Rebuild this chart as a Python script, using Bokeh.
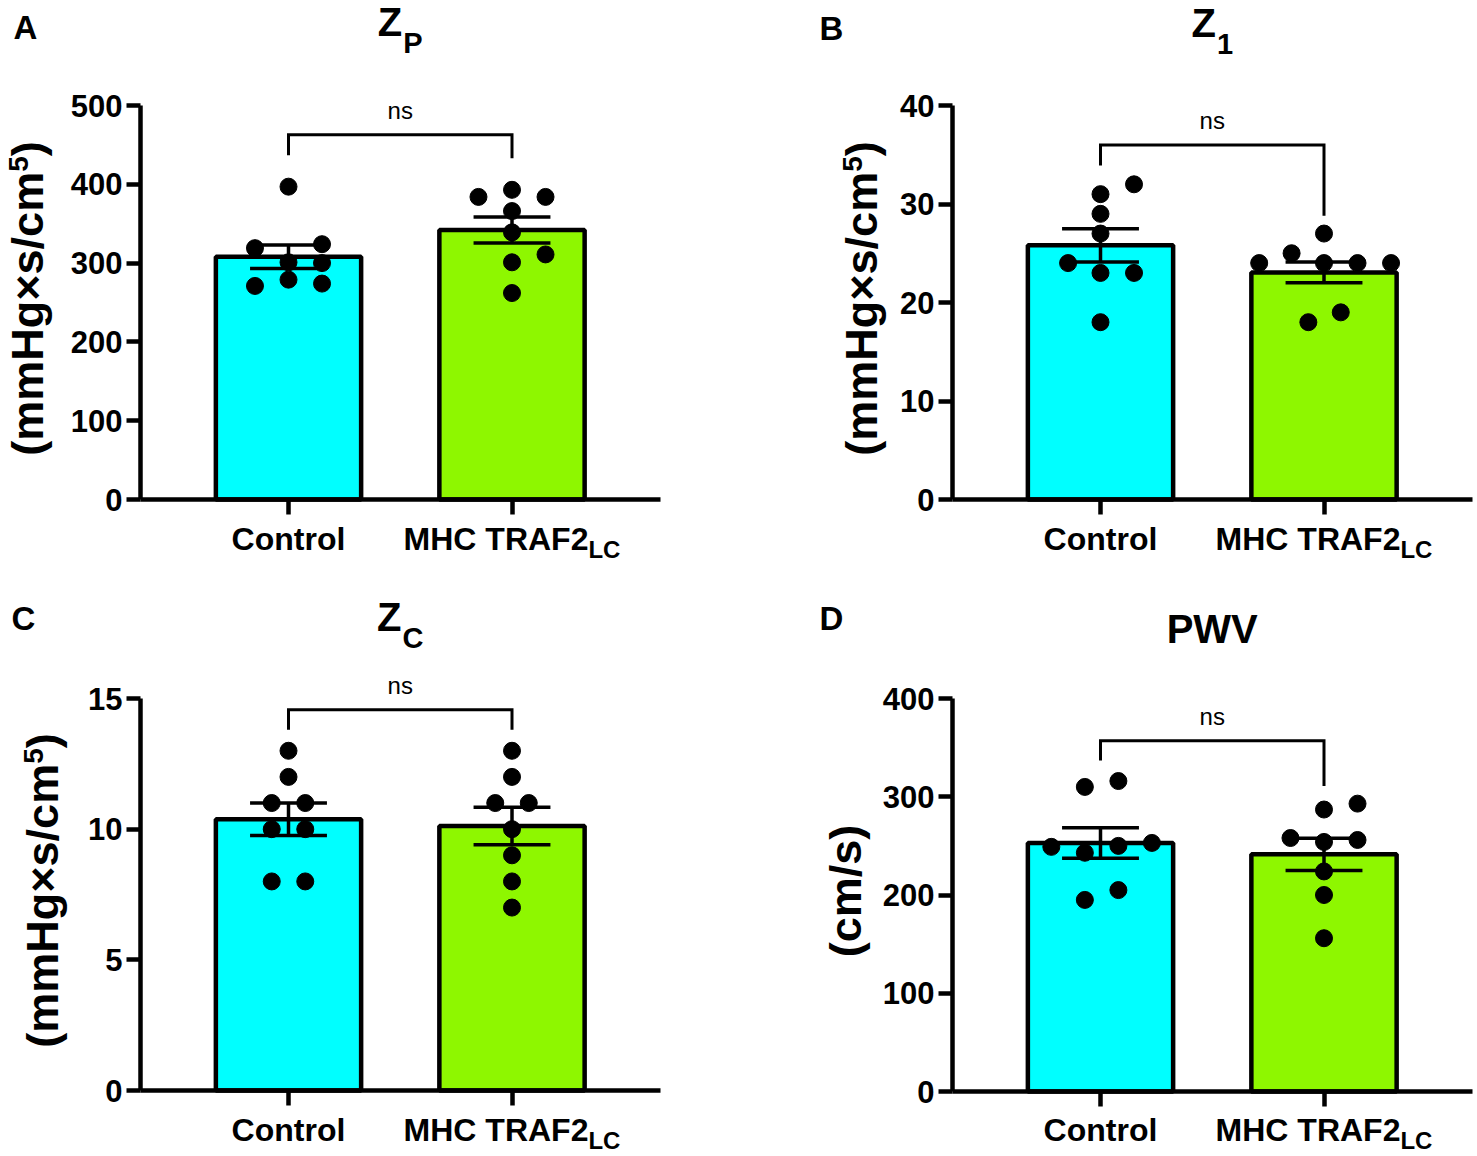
import numpy as np
from bokeh.plotting import figure
from bokeh.models import Range1d, FixedTicker
from bokeh.layouts import row, column
from bokeh.core.properties import value
from bokeh.embed import file_html
from bokeh.resources import INLINE

FONT = "Liberation Sans"

# categories
groups = ["Control", "MHC TRAF2"]
group_subs = ["", "LC"]
group_pos = [1, 2]
bar_colors = ["#00FFFF", "#8EF700"]

# A: Zp (mmHg x s/cm5)
zp_ctrl = [397, 319, 324, 301, 300, 271, 279, 274]
zp_ctrl_jit = [0, -0.15, 0.15, 0, 0.15, -0.15, 0, 0.15]
zp_traf = [393, 384, 384, 366, 339, 311, 301, 262]
zp_traf_jit = [0, -0.15, 0.15, 0, 0, 0.15, 0, 0]
zp_mean = [308, 342]
zp_sem = [15, 16.5]
zp_ticks = [0, 100, 200, 300, 400, 500]
zp_bracket = [463, 437, 433]

# B: Z1
z1_ctrl = [32, 31, 29, 27, 24, 23, 23, 18]
z1_ctrl_jit = [0.15, 0, 0, 0, -0.145, 0, 0.15, 0]
z1_traf = [27, 25, 24, 24, 24, 24, 19, 18]
z1_traf_jit = [0, -0.145, -0.29, 0, 0.15, 0.3, 0.075, -0.07]
z1_mean = [25.8, 23.05]
z1_sem = [1.7, 1.05]
z1_ticks = [0, 10, 20, 30, 40]
z1_bracket = [36, 33.9, 28.8]

# C: Zc
zc_ctrl = [13, 12, 11, 11, 10, 10, 8, 8]
zc_ctrl_jit = [0, 0, -0.075, 0.075, -0.075, 0.075, -0.075, 0.075]
zc_traf = [13, 12, 11, 11, 10, 9, 8, 7]
zc_traf_jit = [0, 0, -0.075, 0.075, 0, 0, 0, 0]
zc_mean = [10.38, 10.12]
zc_sem = [0.62, 0.72]
zc_ticks = [0, 5, 10, 15]
zc_bracket = [14.57, 13.8, 13.8]

# D: PWV (cm/s)
pwv_ctrl = [316, 310, 249, 243, 250, 253, 205, 195]
pwv_ctrl_jit = [0.08, -0.07, -0.22, -0.07, 0.08, 0.23, 0.08, -0.07]
pwv_traf = [293, 287, 258, 254, 256, 224, 200, 156]
pwv_traf_jit = [0.15, 0, -0.15, 0, 0.15, 0, 0, 0]
pwv_mean = [253, 241.4]
pwv_sem = [15.5, 16.4]
pwv_ticks = [0, 100, 200, 300, 400]
pwv_bracket = [357, 337, 311]

# bold Arial-like advance widths (em)
EM = {"(": .333, ")": .333, "m": .889, "H": .722, "g": .611, "×": .584, "s": .556,
      "/": .278, "c": .556, "5": .556, "C": .722, "o": .611, "n": .611, "t": .333,
      "r": .389, "l": .278, "M": .833, "T": .611, "R": .722, "A": .722, "F": .611,
      "2": .556, "L": .611, " ": .278, "Z": .611, "P": .667, "1": .556, "W": .944, "V": .667}


def text_w(s, size):
    return sum(EM.get(ch, .6) for ch in s) * size


PPX = 223.5
BL = 0.36   # bokeh draws "alphabetic" text a bit low; pull it back by this many em
T_MAIN, T_SUB = 40, 29
LETTER = 33


def txt(p, x, y, s, size, bold=True, **kw):
    p.text(x=[x], y=[y], text=[s], text_font=value(FONT), text_font_size=f"{size}px",
           text_font_style="bold" if bold else "normal", text_color="black",
           text_baseline="alphabetic", **kw)


def make_panel(letter, title, title_sub, ylab, ylab_sup, ticks, mean, sem, pts, jits, bracket,
               W, H, fl, cx0, fb, ytop, letter_xy, title_base, ylab_bx, cat_base):
    # the frame fills the whole figure; axes sit at fixed locations inside it
    ymax = ticks[-1]
    ppy = (fb - ytop) / ymax
    x0 = group_pos[0] - cx0 / PPX
    fx = lambda px: x0 + px / PPX
    fy = lambda py: (fb - py) / ppy
    ty = lambda py, size: fy(py - BL * size)     # baseline at screen py
    tx = lambda px, size: fx(px - BL * size)     # rotated baseline at screen px
    p = figure(width=W, height=H, x_range=Range1d(x0, fx(W)), y_range=Range1d(fy(H), fy(0)),
               output_backend="svg", toolbar_location=None, min_border=0,
               min_border_left=0, min_border_right=0, min_border_top=0, min_border_bottom=0)
    p.outline_line_color = None
    p.grid.visible = False

    for ax in (p.xaxis[0], p.yaxis[0]):
        ax.axis_line_width = 4.5
        ax.major_tick_line_width = 4.5
        ax.major_tick_in = 0
        ax.minor_tick_line_color = None
        ax.axis_line_color = "black"
        ax.major_tick_line_color = "black"
    x_axis = fx(fl)
    yax = p.yaxis[0]
    yax.fixed_location = x_axis
    yax.ticker = FixedTicker(ticks=ticks)
    yax.bounds = (0, ymax)
    yax.major_tick_out = 14
    yax.major_label_text_font = FONT
    yax.major_label_text_font_style = "bold"
    yax.major_label_text_font_size = "31px"
    yax.major_label_text_color = "black"
    yax.major_label_standoff = 4
    xax = p.xaxis[0]
    xax.fixed_location = 0
    xax.ticker = FixedTicker(ticks=group_pos)
    xax.bounds = (x_axis, group_pos[-1] + group_pos[0] - x_axis)
    xax.major_tick_out = 15
    xax.major_label_overrides = {g: "" for g in group_pos}

    # bars, error bars, points
    p.vbar(x=group_pos, top=mean, bottom=0, width=0.65, fill_color=bar_colors,
           line_color="black", line_width=4.5)
    lo = [m - s for m, s in zip(mean, sem)]
    hi = [m + s for m, s in zip(mean, sem)]
    cap = 0.172
    p.segment(x0=group_pos, y0=lo, x1=group_pos, y1=hi, line_width=3.5, line_color="black")
    p.segment(x0=[g - cap for g in group_pos] * 2, y0=lo + hi,
              x1=[g + cap for g in group_pos] * 2, y1=lo + hi, line_width=3.5, line_color="black")
    for g, vals, jit in zip(group_pos, pts, jits):
        p.scatter([g + j for j in jit], vals, size=17, color="black")

    # significance bracket
    top, l_end, r_end = bracket
    g0, g1 = group_pos
    p.line([g0, g0, g1, g1], [l_end, top, top, r_end], line_width=3, line_color="black",
           line_join="miter")
    top_px = fb - top * ppy
    txt(p, (g0 + g1) / 2, ty(top_px - 16, 24), "ns", 24, bold=False, text_align="center")

    # title with subscript
    tc = (g0 + g1) / 2
    w_main = text_w(title, T_MAIN)
    w_sub = text_w(title_sub, T_SUB)
    total = w_main + w_sub + (1 if title_sub else 0)
    txt(p, tc, ty(title_base, T_MAIN), title, T_MAIN, x_offset=-total / 2, text_align="left")
    if title_sub:
        txt(p, tc, ty(title_base + 17, T_SUB), title_sub, T_SUB,
            x_offset=-total / 2 + w_main + 1, text_align="left")

    # panel letter
    txt(p, fx(letter_xy[0]), ty(letter_xy[1], LETTER), letter, LETTER, text_align="left")

    # y axis title (rotated), with superscript
    F, FS = 45, 28
    main, close = ylab
    L = text_w(main, F) + text_w(ylab_sup, FS) + text_w(close, F)
    cy = (fb + ytop) / 2 - 4
    sy0 = cy + L / 2
    rot = dict(angle=np.pi / 2, text_align="left")
    txt(p, tx(ylab_bx, F), fy(sy0), main, F, **rot)
    sy1 = sy0 - text_w(main, F)
    if ylab_sup:
        txt(p, tx(ylab_bx - 15, FS), fy(sy1), ylab_sup, FS, **rot)
        sy1 -= text_w(ylab_sup, FS)
    if close:
        txt(p, tx(ylab_bx, F), fy(sy1), close, F, **rot)

    # category labels with subscript
    for g, name, sub in zip(group_pos, groups, group_subs):
        wm = text_w(name, 32)
        ws = text_w(sub, 24)
        tot = wm + ws
        txt(p, g, ty(cat_base, 32), name, 32, x_offset=-tot / 2, text_align="left")
        if sub:
            txt(p, g, ty(cat_base + 8, 24), sub, 24, x_offset=-tot / 2 + wm, text_align="left")
    return p


mmhg = ("(mmHg×s/cm", ")")

pA = make_panel("A", "Z", "P", mmhg, "5", zp_ticks, zp_mean, zp_sem,
                [zp_ctrl, zp_traf], [zp_ctrl_jit, zp_traf_jit], zp_bracket,
                W=812, H=591, fl=140, cx0=288, fb=499, ytop=105, letter_xy=(13, 39),
                title_base=36, ylab_bx=43, cat_base=550)
pB = make_panel("B", "Z", "1", mmhg, "5", z1_ticks, z1_mean, z1_sem,
                [z1_ctrl, z1_traf], [z1_ctrl_jit, z1_traf_jit], z1_bracket,
                W=665, H=591, fl=140, cx0=288, fb=499, ytop=105, letter_xy=(7, 40),
                title_base=37, ylab_bx=65, cat_base=550)
pC = make_panel("C", "Z", "C", mmhg, "5", zc_ticks, zc_mean, zc_sem,
                [zc_ctrl, zc_traf], [zc_ctrl_jit, zc_traf_jit], zc_bracket,
                W=812, H=565, fl=140, cx0=288, fb=499, ytop=107, letter_xy=(11, 39),
                title_base=40, ylab_bx=58, cat_base=550)
pD = make_panel("D", "PWV", "", ("(cm/s)", ""), "", pwv_ticks, pwv_mean, pwv_sem,
                [pwv_ctrl, pwv_traf], [pwv_ctrl_jit, pwv_traf_jit], pwv_bracket,
                W=665, H=565, fl=140, cx0=288, fb=500, ytop=107, letter_xy=(7, 39),
                title_base=52, ylab_bx=49, cat_base=550)

lay = column(row(pA, pB), row(pC, pD))

open("out.html", "w").write(file_html(lay, INLINE))
